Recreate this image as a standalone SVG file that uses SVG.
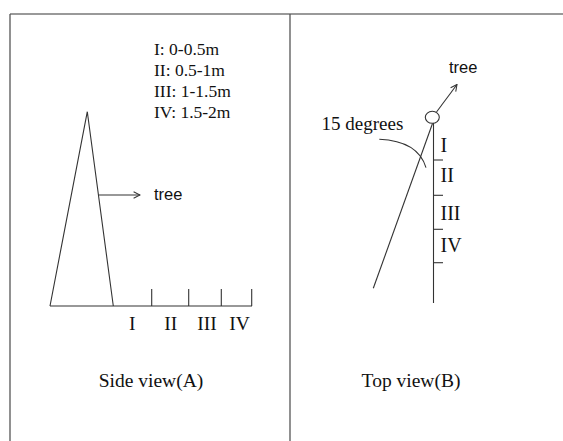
<svg xmlns="http://www.w3.org/2000/svg" width="563" height="441" viewBox="0 0 563 441">
<defs>
<style>
.ln{stroke:#333;stroke-width:1.1;fill:none}
.fr{stroke:#555;stroke-width:1.3;fill:none}
.tm{font-family:"Liberation Serif","Times New Roman",serif;fill:#111}
.sn{font-family:"Liberation Sans",Arial,sans-serif;fill:#111;font-size:16.5px}
</style>
<marker id="ah" viewBox="0 0 10 10" refX="9" refY="5" markerWidth="8" markerHeight="8" markerUnits="userSpaceOnUse" orient="auto">
<path d="M1,1 L9,5 L1,9" fill="none" stroke="#333" stroke-width="1.3"/>
</marker>
</defs>
<rect width="563" height="441" fill="#fff"/>
<g id="frame">
<line x1="10" y1="14" x2="563" y2="14" stroke="#999" stroke-width="2"/>
<line class="fr" x1="10" y1="14" x2="10" y2="441"/>
<line class="fr" x1="290" y1="14" x2="290" y2="441"/>
</g>
<g id="legend" class="tm" font-size="17.5">
<text x="154" y="55">I: 0-0.5m</text>
<text x="154" y="76">II: 0.5-1m</text>
<text x="154" y="97">III: 1-1.5m</text>
<text x="154" y="118">IV: 1.5-2m</text>
</g>
<g id="side-tree">
<polyline class="ln" points="50,306 87.3,111.7 113.3,306"/>
</g>
<g id="side-ground">
<line class="ln" x1="50" y1="306" x2="252" y2="306"/>
<line class="ln" x1="151.7" y1="289" x2="151.7" y2="306"/>
<line class="ln" x1="188.7" y1="289" x2="188.7" y2="306"/>
<line class="ln" x1="221.3" y1="289" x2="221.3" y2="306"/>
<line class="ln" x1="251.7" y1="289" x2="251.7" y2="306"/>
<g class="tm" font-size="19.5" text-anchor="middle">
<text x="132.3" y="330">I</text>
<text x="170.7" y="330">II</text>
<text x="207" y="330">III</text>
<text x="239.5" y="330">IV</text>
</g>
</g>
<g id="side-tree-label">
<text class="sn" x="154" y="200">tree</text>
</g>
<g id="top-tree">
<ellipse cx="432.3" cy="117.3" rx="7" ry="6" class="ln"/>
<text class="sn" x="449" y="73">tree</text>
</g>
<g id="top-axis">
<line class="ln" x1="433.5" y1="123" x2="433.5" y2="303"/>
<line class="ln" x1="433.5" y1="160" x2="443" y2="160"/>
<line class="ln" x1="433.5" y1="195.3" x2="443" y2="195.3"/>
<line class="ln" x1="433.5" y1="229.3" x2="443" y2="229.3"/>
<line class="ln" x1="433.5" y1="262.7" x2="443" y2="262.7"/>
<g class="tm" font-size="20">
<text x="440.5" y="151.7">I</text>
<text x="440.5" y="181.7">II</text>
<text x="440.5" y="220">III</text>
<text x="440.5" y="251.7">IV</text>
</g>
</g>
<g id="top-angle">
<text class="tm" font-size="19" x="321.5" y="130">15 degrees</text>
</g>
<g id="connectors">
<line class="ln" x1="99" y1="195" x2="140" y2="195" marker-end="url(#ah)"/>
<line class="ln" x1="436.5" y1="112" x2="457" y2="84.5" marker-end="url(#ah)"/>
<line class="ln" x1="432.5" y1="123.5" x2="373.3" y2="288.3"/>
<path class="ln" d="M379.3,139.3 Q418,141 426,167.7"/>
</g>
<g id="captions" class="tm" font-size="19.5" text-anchor="middle">
<text x="151" y="387">Side view(A)</text>
<text x="411" y="387">Top view(B)</text>
</g>
</svg>
